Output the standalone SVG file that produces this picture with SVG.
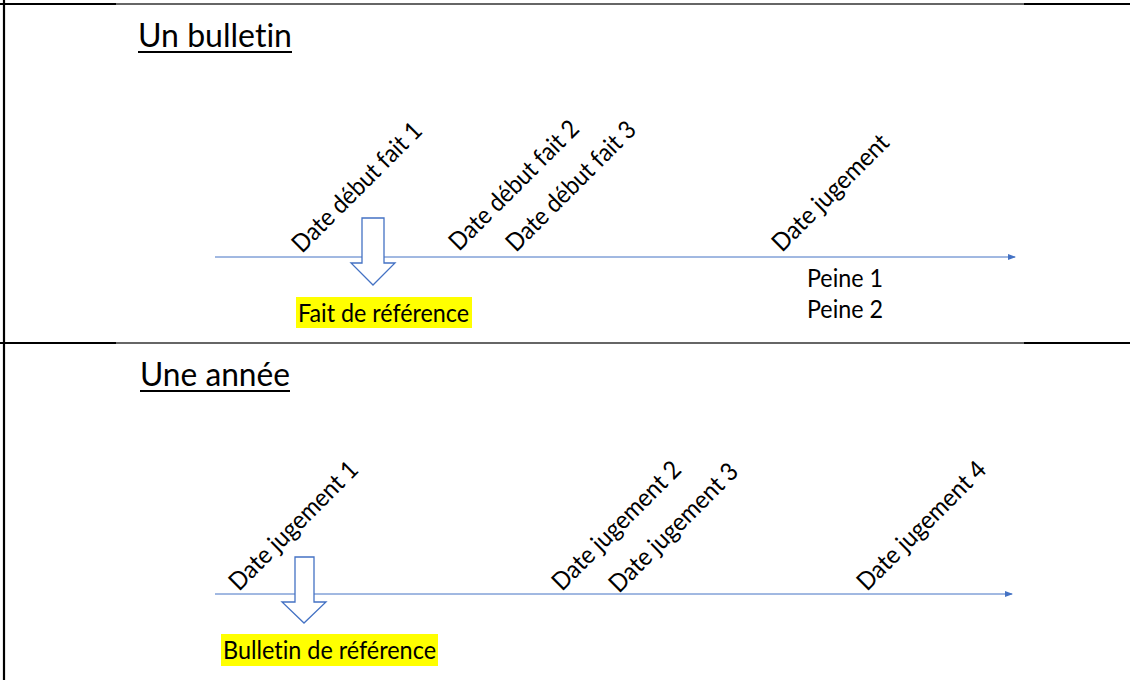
<svg xmlns="http://www.w3.org/2000/svg" width="1130" height="680" viewBox="0 0 1130 680">
  <defs>
    <style>
      text { font-family: Lato, "Open Sans", "Liberation Sans", sans-serif; fill: #000; font-variant-ligatures: none; }
      .title { font-size: 33px; }
      .lbl { font-size: 25px; }
      .txt { font-size: 25px; }
      .axis { stroke: #4472C4; stroke-width: 1; fill: none; }
      .blk { stroke: #4472C4; stroke-width: 1.3; fill: #fff; }
      .hl { fill: #FFFF00; }
      .border { stroke: #000; stroke-width: 2.2; }
      .thin { stroke: #333; stroke-width: 1.4; }
    </style>
    <marker id="tri" markerWidth="8" markerHeight="8" refX="7" refY="4" orient="auto" markerUnits="userSpaceOnUse">
      <path d="M0,1 L8,4 L0,7 Z" fill="#4472C4"/>
    </marker>
  </defs>

  <g id="frame">
    <line class="border" x1="4" y1="0" x2="4" y2="680"/>
    <line class="border" x1="0" y1="4" x2="116" y2="4"/>
    <line class="thin" x1="116" y1="4" x2="1024" y2="4"/>
    <line class="border" x1="1024" y1="4" x2="1130" y2="4"/>
    <line class="border" x1="0" y1="343" x2="116" y2="343"/>
    <line class="thin" x1="116" y1="343" x2="1024" y2="343"/>
    <line class="border" x1="1024" y1="343" x2="1130" y2="343"/>
  </g>

  <g id="connectors">
    <line class="axis" x1="215" y1="257" x2="1015" y2="257" marker-end="url(#tri)"/>
    <line class="axis" x1="215" y1="594" x2="1012" y2="594" marker-end="url(#tri)"/>
  </g>

  <g id="title-bulletin">
    <text class="title" x="138" y="47" textLength="154" lengthAdjust="spacingAndGlyphs">Un bulletin</text>
    <line x1="138" y1="52" x2="292" y2="52" stroke="#000" stroke-width="2"/>
  </g>

  <g id="label-fait1"><text class="lbl" transform="translate(302,254) rotate(-45)" textLength="172" lengthAdjust="spacingAndGlyphs">Date début fait 1</text></g>
  <g id="label-fait2"><text class="lbl" transform="translate(459,252) rotate(-45)" textLength="172" lengthAdjust="spacingAndGlyphs">Date début fait 2</text></g>
  <g id="label-fait3"><text class="lbl" transform="translate(516,253) rotate(-45)" textLength="172" lengthAdjust="spacingAndGlyphs">Date début fait 3</text></g>
  <g id="label-jugement"><text class="lbl" transform="translate(782,253) rotate(-45)" textLength="154" lengthAdjust="spacingAndGlyphs">Date jugement</text></g>

  <g id="arrow-fait-ref">
    <path class="blk" d="M362,218 H384 V263 H395 L373,285 L351,263 H362 Z"/>
  </g>
  <g id="fait-reference">
    <rect class="hl" x="296" y="297" width="176" height="31"/>
    <text class="txt" x="298" y="322" textLength="171" lengthAdjust="spacingAndGlyphs">Fait de référence</text>
  </g>
  <g id="peines">
    <text class="txt" x="807" y="287" textLength="76" lengthAdjust="spacingAndGlyphs">Peine 1</text>
    <text class="txt" x="807" y="318" textLength="76" lengthAdjust="spacingAndGlyphs">Peine 2</text>
  </g>

  <g id="title-annee">
    <text class="title" x="140" y="386" textLength="150" lengthAdjust="spacingAndGlyphs">Une année</text>
    <line x1="140" y1="391" x2="290" y2="391" stroke="#000" stroke-width="2"/>
  </g>

  <g id="label-jug1"><text class="lbl" transform="translate(239,592) rotate(-45)" textLength="171" lengthAdjust="spacingAndGlyphs">Date jugement 1</text></g>
  <g id="label-jug2"><text class="lbl" transform="translate(562,592) rotate(-45)" textLength="171" lengthAdjust="spacingAndGlyphs">Date jugement 2</text></g>
  <g id="label-jug3"><text class="lbl" transform="translate(619,594) rotate(-45)" textLength="171" lengthAdjust="spacingAndGlyphs">Date jugement 3</text></g>
  <g id="label-jug4"><text class="lbl" transform="translate(867,592) rotate(-45)" textLength="171" lengthAdjust="spacingAndGlyphs">Date jugement 4</text></g>

  <g id="arrow-bulletin-ref">
    <path class="blk" d="M295,557 H314 V602 H326 L304,623 L282,602 H295 Z"/>
  </g>
  <g id="bulletin-reference">
    <rect class="hl" x="221" y="634" width="217" height="32"/>
    <text class="txt" x="223" y="659" textLength="213" lengthAdjust="spacingAndGlyphs">Bulletin de référence</text>
  </g>
</svg>
